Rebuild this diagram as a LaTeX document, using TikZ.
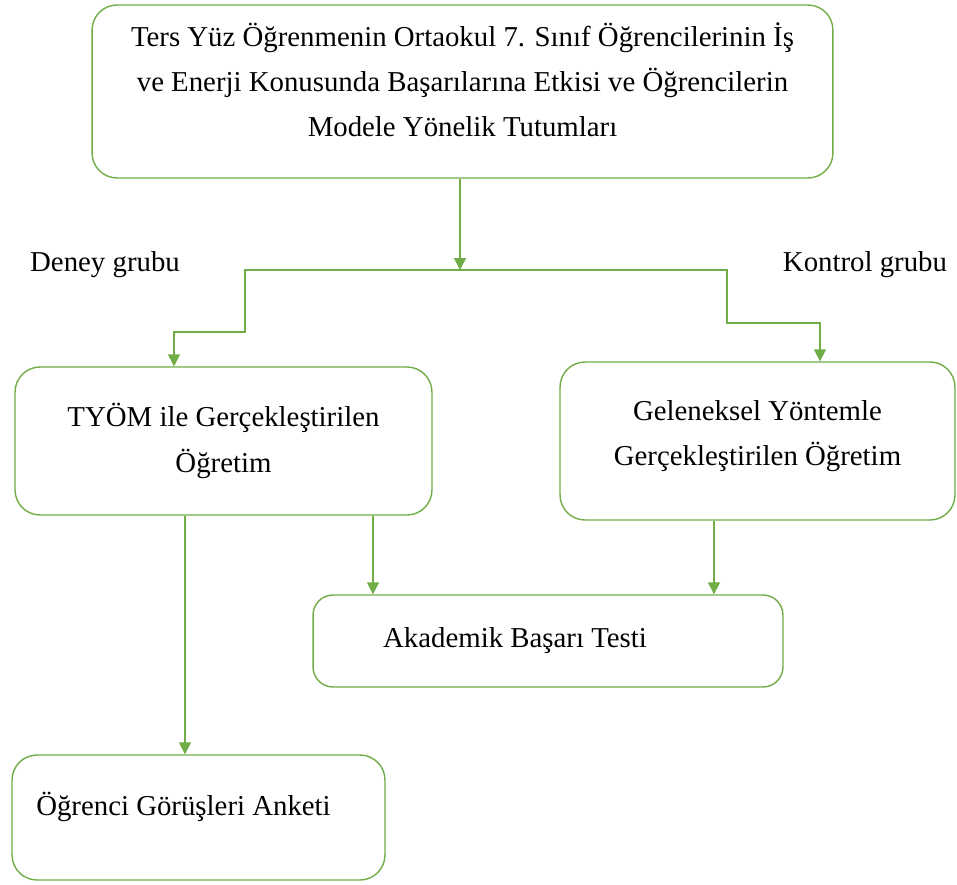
\documentclass[tikz,border=0pt]{standalone}
\usepackage{fontspec}
\setmainfont{Liberation Serif}
\usetikzlibrary{arrows.meta,positioning}
\definecolor{boxgreen}{HTML}{70AD47}

\begin{document}
\begin{tikzpicture}[
  x=0.02cm, y=-0.02cm,
  font=\fontsize{16.4}{25.5}\selectfont,
  box/.style={draw=boxgreen, line width=0.8pt, rounded corners=0.5cm, align=center, fill=white},
  grp/.style={inner sep=0pt},
  arrow/.style={-{Triangle[length=2.4mm,width=2.4mm]}, draw=boxgreen, line width=0.8pt}
]
\useasboundingbox (0,0) rectangle (957,885);
\node[box, minimum width=14.82cm, minimum height=3.46cm] (top) at (462.5,91.5)
  {Ters Yüz Öğrenmenin Ortaokul 7. Sınıf Öğrencilerinin İş\\ve Enerji Konusunda Başarılarına Etkisi ve Öğrencilerin\\Modele Yönelik Tutumları\\[-12pt]\mbox{}};
\node[grp] (deney) at (105,265) {Deney grubu};
\node[grp] (kontrol) at (865,265) {Kontrol grubu};
\node[box, minimum width=8.34cm, minimum height=2.96cm, font=\fontsize{16.4}{26.6}\selectfont] (tyom) at (223.5,441)
  {TYÖM ile Gerçekleştirilen\\Öğretim};
\node[box, minimum width=7.9cm, minimum height=3.16cm] (gelen) at (757.5,441)
  {Geleneksel Yöntemle\\Gerçekleştirilen Öğretim\\[-16pt]\mbox{}};
\node[box, minimum width=9.4cm, minimum height=1.84cm, rounded corners=0.4cm] (akad) at (548,641)
  {Akademik Başarı Testi\hspace*{1.32cm}};
\node[box, minimum width=7.46cm, minimum height=2.5cm] (anket) at (198.5,817.5)
  {Öğrenci Görüşleri Anketi\hspace*{0.6cm}\\[-10pt]\mbox{}};

\coordinate (split) at (460,270);
\draw[arrow] (top.south -| split) -- (split);
\draw[arrow] (split) -| (245,332) -| ([xshift=-0.99cm]tyom.north);
\draw[arrow] (split) -| (727,323) -| ([xshift=1.25cm]gelen.north);
\draw[arrow] ([xshift=2.99cm]tyom.south) -- ([xshift=2.99cm]tyom.south |- akad.north);
\draw[arrow] ([xshift=-0.87cm]gelen.south) -- ([xshift=-0.87cm]gelen.south |- akad.north);
\draw[arrow] ([xshift=-0.77cm]tyom.south) -- ([xshift=-0.77cm]tyom.south |- anket.north);
\end{tikzpicture}
\end{document}
